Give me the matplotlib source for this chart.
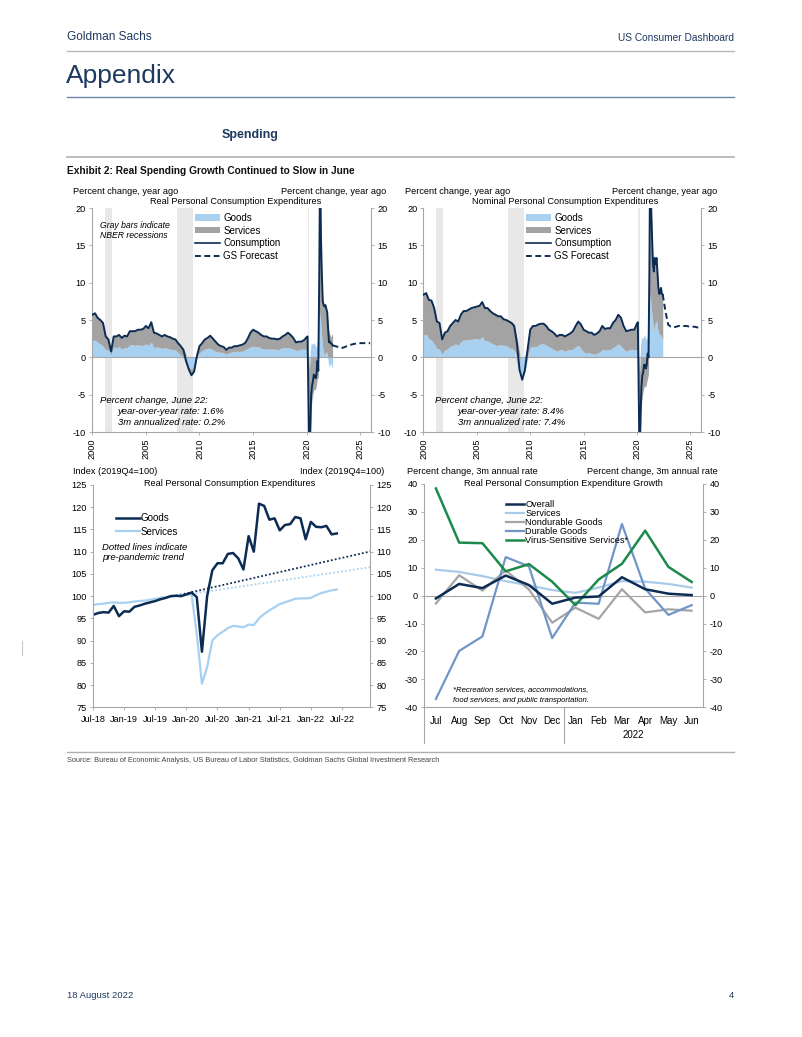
import numpy as np
import pandas as pd
import matplotlib
matplotlib.use('Agg')
import matplotlib.pyplot as plt
from matplotlib.patches import Patch
from matplotlib.lines import Line2D

plt.rcParams['font.family'] = ['Liberation Sans', 'DejaVu Sans']
plt.rcParams['axes.unicode_minus'] = False
HEAD_FONT = ['Liberation Sans', 'DejaVu Sans']

# ---------------- data ----------------
# NBER recessions (decimal years)
recessions = [(2001.17, 2001.83), (2007.92, 2009.42), (2020.08, 2020.25)]

# quarterly 2000Q1-2019Q4, yoy % (real PCE)
real_cons_q = [5.7, 5.9, 5.3, 5.0, 4.6, 2.8, 2.4, 0.8, 2.8, 2.8, 3.0, 2.6, 2.9, 2.8, 3.5, 3.5,
               3.5, 3.7, 3.7, 3.8, 4.2, 3.9, 4.7, 3.3, 3.2, 3.0, 2.8, 3.0, 2.8, 2.7, 2.5, 2.4,
               1.9, 1.5, 1.0, -0.5, -1.6, -2.4, -1.9, 0.1, 1.5, 1.9, 2.4, 2.6, 2.9, 2.5, 2.1, 1.7,
               1.5, 1.4, 1.0, 1.3, 1.3, 1.5, 1.5, 1.6, 1.7, 1.9, 2.5, 3.3, 3.7, 3.5, 3.3, 3.0,
               2.8, 2.8, 2.6, 2.5, 2.5, 2.4, 2.5, 2.8, 3.0, 3.3, 3.0, 2.6, 2.0, 2.1, 2.1, 2.3]
real_goods_q = [2.2, 2.3, 2.0, 1.8, 1.5, 1.0, 1.0, 0.3, 1.4, 1.3, 1.4, 1.1, 1.3, 1.3, 1.7, 1.7,
                1.6, 1.7, 1.6, 1.6, 1.8, 1.6, 2.0, 1.3, 1.4, 1.3, 1.2, 1.3, 1.2, 1.1, 1.0, 1.0,
                0.6, 0.3, -0.2, -0.8, -1.3, -1.6, -1.3, -0.2, 0.6, 0.9, 1.1, 1.2, 1.2, 1.0, 0.8, 0.7,
                0.7, 0.6, 0.4, 0.6, 0.7, 0.8, 0.8, 0.8, 0.8, 1.0, 1.2, 1.4, 1.5, 1.4, 1.4, 1.2,
                1.1, 1.1, 1.1, 1.1, 1.1, 1.0, 1.1, 1.3, 1.3, 1.3, 1.2, 1.1, 0.9, 1.0, 1.1, 1.1]
real_serv_q = [3.5, 3.6, 3.3, 3.2, 3.1, 1.8, 1.4, 0.5, 1.4, 1.5, 1.6, 1.5, 1.6, 1.5, 1.8, 1.8,
               1.9, 2.0, 2.1, 2.2, 2.4, 2.3, 2.7, 2.0, 1.8, 1.7, 1.6, 1.7, 1.6, 1.6, 1.5, 1.4,
               1.3, 1.2, 1.2, 0.3, -0.3, -0.8, -0.6, 0.3, 0.9, 1.0, 1.3, 1.4, 1.7, 1.5, 1.3, 1.0,
               0.8, 0.8, 0.6, 0.7, 0.6, 0.7, 0.7, 0.8, 0.9, 0.9, 1.3, 1.9, 2.2, 2.1, 1.9, 1.8,
               1.7, 1.7, 1.5, 1.4, 1.4, 1.4, 1.4, 1.5, 1.7, 2.0, 1.8, 1.5, 1.1, 1.1, 1.0, 1.2]
# monthly Jan-2020 to Jun-2022
real_cons_m = [2.7, 2.8, -6.5, -16.0, -10.0, -5.0, -3.8, -3.2, -2.3, -2.5, -2.8, -2.3,
               -0.5, -1.8, 10.0, 26.0, 16.0, 11.0, 7.5, 7.0, 6.8, 7.0, 6.5, 6.0,
               3.8, 2.0, 2.1, 1.9, 1.8, 1.6]
real_goods_m = [1.0, 1.1, -0.5, -1.5, 1.0, 1.8, 1.9, 1.7, 2.0, 1.8, 1.5, 1.3,
                2.3, 1.0, 4.5, 6.0, 4.0, 2.5, 1.2, 0.5, 0.3, 0.6, 0.8, 0.3,
                -0.5, -1.3, -1.0, -0.8, -1.2, -1.5]
real_serv_m = [1.7, 1.7, -6.0, -14.5, -11.0, -6.8, -5.7, -4.9, -4.3, -4.3, -4.3, -3.6,
               -2.8, -2.8, 5.5, 20.0, 12.0, 8.5, 6.3, 6.5, 6.5, 6.4, 5.7, 5.7,
               4.3, 3.3, 3.1, 2.7, 3.0, 3.1]
# GS forecast, every 3 months Jun-2022 to Dec-2025
real_fcst = [1.6, 1.5, 1.4, 1.25, 1.3, 1.45, 1.6, 1.7, 1.8, 1.85, 1.9, 1.9, 1.9, 1.9, 1.9]

# nominal PCE
nom_cons_q = [8.4, 8.6, 7.7, 7.6, 6.6, 4.8, 4.6, 2.4, 3.3, 3.5, 4.2, 4.6, 5.0, 4.8, 5.7, 6.2,
              6.2, 6.4, 6.6, 6.7, 6.8, 6.9, 7.4, 6.6, 6.6, 6.2, 5.9, 5.7, 5.5, 5.5, 5.1, 5.0,
              4.8, 4.6, 4.2, 1.9, -1.7, -3.0, -1.7, 1.0, 3.7, 4.2, 4.2, 4.4, 4.5, 4.5, 4.2, 3.7,
              3.5, 3.2, 2.8, 3.0, 3.0, 2.8, 3.0, 3.2, 3.5, 4.2, 4.8, 4.4, 3.7, 3.5, 3.3, 3.3,
              3.0, 3.2, 3.5, 4.2, 3.8, 3.9, 3.9, 4.6, 5.0, 5.7, 5.3, 4.2, 3.5, 3.6, 3.7, 3.7]
nom_goods_q = [3.0, 3.1, 2.5, 2.3, 1.8, 1.2, 1.1, 0.4, 1.0, 1.1, 1.5, 1.6, 1.8, 1.6, 2.1, 2.3,
               2.3, 2.4, 2.4, 2.5, 2.5, 2.4, 2.8, 2.2, 2.2, 2.0, 1.8, 1.6, 1.6, 1.7, 1.6, 1.6,
               1.3, 1.2, 1.0, -0.8, -2.3, -2.7, -2.0, -0.2, 1.3, 1.5, 1.4, 1.6, 1.8, 1.8, 1.6, 1.4,
               1.2, 1.0, 0.8, 1.0, 1.0, 0.8, 1.0, 1.0, 1.1, 1.4, 1.6, 1.2, 0.7, 0.6, 0.6, 0.5,
               0.4, 0.5, 0.7, 1.0, 1.0, 1.0, 1.0, 1.3, 1.5, 1.8, 1.5, 1.1, 0.8, 1.0, 1.1, 1.0]
nom_serv_q = [5.4, 5.5, 5.2, 5.3, 4.8, 3.6, 3.5, 2.0, 2.3, 2.4, 2.7, 3.0, 3.2, 3.2, 3.6, 3.9,
              3.9, 4.0, 4.2, 4.2, 4.3, 4.5, 4.6, 4.4, 4.4, 4.2, 4.1, 4.1, 3.9, 3.8, 3.5, 3.4,
              3.5, 3.4, 3.2, 2.7, 0.6, -0.3, 0.3, 1.2, 2.4, 2.7, 2.8, 2.8, 2.7, 2.7, 2.6, 2.3,
              2.3, 2.2, 2.0, 2.0, 2.0, 2.0, 2.0, 2.2, 2.4, 2.8, 3.2, 3.2, 3.0, 2.9, 2.7, 2.8,
              2.6, 2.7, 2.8, 3.2, 2.8, 2.9, 2.9, 3.3, 3.5, 3.9, 3.8, 3.1, 2.7, 2.6, 2.6, 2.7]
nom_cons_m = [4.5, 4.7, -5.0, -15.0, -8.0, -4.0, -2.5, -2.0, -1.0, -1.0, -1.5, -1.0,
              0.5, 0.0, 12.0, 30.0, 20.0, 16.0, 12.5, 11.5, 13.3, 12.5, 13.3, 11.5,
              9.5, 8.5, 8.6, 9.3, 8.5, 8.4]
nom_goods_m = [1.0, 1.2, 0.0, -2.0, 1.5, 2.5, 2.7, 2.5, 3.0, 2.8, 2.5, 2.3,
               3.3, 2.2, 6.5, 8.5, 6.5, 5.5, 4.5, 3.5, 4.5, 4.5, 5.0, 4.0,
               3.5, 3.0, 3.0, 3.0, 2.5, 2.3]
nom_serv_m = [3.5, 3.5, -5.0, -13.0, -9.5, -6.5, -5.2, -4.5, -4.0, -3.8, -4.0, -3.3,
              -2.8, -2.2, 5.5, 21.5, 13.5, 10.5, 8.0, 8.0, 8.8, 8.0, 8.3, 7.5,
              6.0, 5.5, 5.6, 6.3, 6.0, 6.1]
nom_fcst = [8.4, 6.2, 4.4, 4.1, 4.0, 4.1, 4.2, 4.2, 4.2, 4.2, 4.1, 4.1, 4.1, 4.0, 4.0]

# real PCE index, Jul-2018 to Jun-2022 (2019Q4=100)
idx_goods = [95.8, 96.2, 96.4, 96.3, 97.8, 95.5, 96.6, 96.5, 97.6, 97.9, 98.3, 98.6,
             98.9, 99.3, 99.6, 100.0, 100.1, 100.0, 100.4, 100.8, 99.8, 87.5, 100.0, 105.8,
             107.4, 107.4, 109.5, 109.7, 108.5, 106.0, 113.5, 110.0, 120.8, 120.3, 117.2, 117.5,
             114.8, 116.0, 116.2, 117.8, 117.5, 112.8, 116.7, 115.6, 115.5, 115.8, 113.9, 114.1]
idx_serv = [98.0, 98.2, 98.3, 98.5, 98.6, 98.5, 98.5, 98.6, 98.8, 98.9, 99.0, 99.2,
            99.4, 99.6, 99.8, 100.0, 100.0, 100.1, 100.3, 100.5, 91.5, 80.3, 84.0, 90.0,
            91.2, 92.0, 92.8, 93.3, 93.2, 93.0, 93.6, 93.5, 95.0, 96.0, 96.8, 97.5,
            98.2, 98.6, 99.0, 99.4, 99.5, 99.5, 99.6, 100.2, 100.7, 101.0, 101.3, 101.5]
idx_ticklabels = ['Jul-18', 'Jan-19', 'Jul-19', 'Jan-20', 'Jul-20', 'Jan-21', 'Jul-21', 'Jan-22', 'Jul-22']
# pre-pandemic trend: Nov-19 and Jan-23
trend_goods = [100.1, 110.2]
trend_serv = [100.0, 106.6]

# 3m annualized growth, Jul-2021 to Jun-2022
months = ['Jul', 'Aug', 'Sep', 'Oct', 'Nov', 'Dec', 'Jan', 'Feb', 'Mar', 'Apr', 'May', 'Jun']
g_overall = [-1.0, 4.2, 2.7, 7.2, 3.8, -2.9, -0.7, -0.3, 6.6, 2.3, 0.7, 0.2]
g_services = [9.3, 8.5, 7.0, 5.2, 3.7, 2.0, 1.0, 2.9, 5.2, 5.0, 4.2, 2.9]
g_nondurable = [-2.8, 7.3, 1.8, 9.0, 2.2, -9.7, -4.3, -8.3, 2.3, -6.0, -4.9, -5.4]
g_durable = [-37.0, -19.8, -14.6, 13.8, 10.5, -15.2, -2.5, -2.9, 25.7, 2.5, -6.9, -3.4]
g_virus = [38.4, 19.0, 18.8, 8.7, 11.3, 5.0, -3.4, 5.8, 11.4, 23.3, 10.3, 4.9]

# ---------------- style ----------------
W, H = 802, 1037
NAVY = '#0d2c54'
LBLUE = '#a8d0f0'
GRAY = '#a3a3a3'
SPINE = '#a6a6a6'
HEAD = '#1f3a60'
FS = 6.6

fig = plt.figure(figsize=(W / 100, H / 100), dpi=100)


def ftext(x, y, s, **kw):
    kw.setdefault('va', 'center')
    kw.setdefault('fontsize', FS)
    fig.text(x / W, 1 - y / H, s, **kw)


def hline(y, x0, x1, color, lw=1.0):
    fig.add_artist(Line2D([x0 / W, x1 / W], [1 - y / H, 1 - y / H], color=color, lw=lw))


def add_ax(l, t, r, b):
    return fig.add_axes([l / W, 1 - b / H, (r - l) / W, (b - t) / H])


def style_ax(ax):
    ax.spines['top'].set_visible(False)
    for s in ['left', 'right', 'bottom']:
        ax.spines[s].set_color(SPINE)
        ax.spines[s].set_linewidth(0.8)
    ax.tick_params(axis='y', left=True, right=True, labelleft=True, labelright=True,
                   direction='out', length=2.5, width=0.6, color=SPINE, pad=2, labelsize=FS)
    ax.tick_params(axis='x', direction='out', length=2.5, width=0.6, color=SPINE, pad=2, labelsize=FS)
    ax.set_facecolor('none')


# page header
ftext(67, 37, 'Goldman Sachs', fontsize=8.6, color=HEAD, family=HEAD_FONT)
ftext(734, 38, 'US Consumer Dashboard', fontsize=7.3, color=HEAD, family=HEAD_FONT, ha='right')
hline(51, 67, 734, '#b8b8b8')
ftext(66, 76, 'Appendix', fontsize=19, color=HEAD, family=HEAD_FONT)
hline(97, 67, 734, '#6f87a6')
ftext(222, 135, 'Spending', fontsize=9, color=HEAD, family=HEAD_FONT, weight='bold')
hline(157, 67, 734, '#b0b0b0', 1.2)
ftext(67, 171, 'Exhibit 2: Real Spending Growth Continued to Slow in June', fontsize=7.3,
      color='#111111', family=HEAD_FONT, weight='bold')
hline(752, 67, 734, '#b0b0b0')
ftext(67, 760, 'Source: Bureau of Economic Analysis, US Bureau of Labor Statistics, Goldman Sachs Global Investment Research',
      fontsize=5.3, color='#444444', family=HEAD_FONT)
ftext(67, 995, '18 August 2022', fontsize=6.8, color=HEAD, family=HEAD_FONT)
ftext(734, 995, '4', fontsize=6.8, color=HEAD, family=HEAD_FONT, ha='right')
fig.add_artist(Line2D([22 / W, 22 / W], [1 - 641 / H, 1 - 655 / H], color='#c8c8c8', lw=0.8))

# x positions
qx = np.array([p.year + (p.quarter - 1) / 4 for p in pd.period_range('2000Q1', '2019Q4', freq='Q')])
mx = np.array([p.year + (p.month - 1) / 12 for p in pd.period_range('2020-01', '2022-06', freq='M')])
fx = np.array([d.year + (d.month - 1) / 12 for d in pd.date_range('2022-06-01', '2025-12-01', freq='3MS')])


def pce_panel(ax, goods_q, serv_q, cons_q, goods_m, serv_m, cons_m, fcst):
    x = np.concatenate([qx, mx])
    goods = np.array(goods_q + goods_m)
    serv = np.array(serv_q + serv_m)
    cons = np.array(cons_q + cons_m)
    for a, b in recessions:
        ax.axvspan(a, b, color='#e8e8e8', lw=0, zorder=0)
    ax.fill_between(x, 0, goods, color=LBLUE, lw=0, zorder=1)
    base = np.where(serv >= 0, np.maximum(goods, 0), np.minimum(goods, 0))
    ax.fill_between(x, base, base + serv, color=GRAY, lw=0, zorder=1)
    ax.axhline(0, color=SPINE, lw=0.8, zorder=2)
    ax.plot(x, cons, color=NAVY, lw=1.4, zorder=3)
    ax.plot(fx, fcst, color=NAVY, lw=1.4, ls=(0, (3, 1.8)), zorder=3)
    ax.set_xlim(2000, 2026)
    ax.set_ylim(-10, 20)
    ax.set_yticks(range(-10, 21, 5))
    ax.set_xticks(range(2000, 2026, 5))
    ax.set_xticklabels([str(y) for y in range(2000, 2026, 5)], rotation=90)
    style_ax(ax)
    handles = [Patch(facecolor=LBLUE, label='Goods'), Patch(facecolor=GRAY, label='Services'),
               Line2D([], [], color=NAVY, lw=1.2, label='Consumption'),
               Line2D([], [], color=NAVY, lw=1.4, ls=(0, (3, 1.8)), label='GS Forecast')]
    return handles


# chart 1: real
ax1 = add_ax(92.3, 208, 371, 432)
h = pce_panel(ax1, real_goods_q, real_serv_q, real_cons_q, real_goods_m, real_serv_m, real_cons_m, real_fcst)
ax1.legend(handles=h, loc='upper left', bbox_to_anchor=(0.355, 0.995), frameon=False, fontsize=7,
           handlelength=2.6, handleheight=0.6, handletextpad=0.3, labelspacing=0.28, borderaxespad=0)
ftext(73, 191, 'Percent change, year ago')
ftext(386, 191, 'Percent change, year ago', ha='right')
ftext(236, 202, 'Real Personal Consumption Expenditures', ha='center')
ftext(100, 226, 'Gray bars indicate', style='italic', fontsize=6.2)
ftext(100, 235.5, 'NBER recessions', style='italic', fontsize=6.2)
ftext(100, 401, 'Percent change, June 22:', style='italic', fontsize=6.8)
ftext(118, 412, 'year-over-year rate: 1.6%', style='italic', fontsize=6.8)
ftext(118, 423, '3m annualized rate: 0.2%', style='italic', fontsize=6.8)

# chart 2: nominal
ax2 = add_ax(423.5, 208, 701, 432)
h = pce_panel(ax2, nom_goods_q, nom_serv_q, nom_cons_q, nom_goods_m, nom_serv_m, nom_cons_m, nom_fcst)
ax2.legend(handles=h, loc='upper left', bbox_to_anchor=(0.355, 0.995), frameon=False, fontsize=7,
           handlelength=2.6, handleheight=0.6, handletextpad=0.3, labelspacing=0.28, borderaxespad=0)
ftext(405, 191, 'Percent change, year ago')
ftext(717, 191, 'Percent change, year ago', ha='right')
ftext(565, 202, 'Nominal Personal Consumption Expenditures', ha='center')
ftext(435, 401, 'Percent change, June 22:', style='italic', fontsize=6.8)
ftext(458, 412, 'year-over-year rate: 8.4%', style='italic', fontsize=6.8)
ftext(458, 423, '3m annualized rate: 7.4%', style='italic', fontsize=6.8)

# chart 3: index levels
ax3 = add_ax(93, 485, 370, 707.3)
mi = np.arange(len(idx_goods))
ax3.plot([16, 54], trend_goods, color=NAVY, lw=1.3, ls=(0, (1, 1.2)))
ax3.plot([16, 54], trend_serv, color=LBLUE, lw=1.3, ls=(0, (1, 1.2)))
ax3.plot(mi, idx_serv, color=LBLUE, lw=1.6, label='Services')
ax3.plot(mi, idx_goods, color=NAVY, lw=1.8, label='Goods')
ax3.set_xlim(0, 53.4)
ax3.set_ylim(75, 125)
ax3.set_yticks(range(75, 126, 5))
ax3.set_xticks(range(0, 49, 6))
ax3.set_xticklabels(idx_ticklabels)
style_ax(ax3)
ax3.tick_params(axis='x', pad=3)
hs, ls_ = ax3.get_legend_handles_labels()
ax3.legend(hs[::-1], ls_[::-1], loc='upper left', bbox_to_anchor=(0.07, 0.89), frameon=False, fontsize=7,
           handlelength=2.4, handletextpad=0.1, labelspacing=0.35, borderaxespad=0)
ftext(73, 472, 'Index (2019Q4=100)')
ftext(384, 472, 'Index (2019Q4=100)', ha='right')
ftext(230, 483, 'Real Personal Consumption Expenditures', ha='center')
ftext(102, 547, 'Dotted lines indicate', style='italic', fontsize=6.8)
ftext(102, 558, 'pre-pandemic trend', style='italic', fontsize=6.8)

# chart 4: 3m annualized growth
ax4 = add_ax(424.3, 484, 703.3, 707.3)
cx = np.arange(len(months))
ax4.axhline(0, color=SPINE, lw=0.8)
ax4.plot(cx, g_services, color='#a9cbea', lw=1.6, label='Services')
ax4.plot(cx, g_nondurable, color='#a5a5a5', lw=1.6, label='Nondurable Goods')
ax4.plot(cx, g_durable, color='#7096c8', lw=1.6, label='Durable Goods')
ax4.plot(cx, g_virus, color='#1b8a4a', lw=1.8, label='Virus-Sensitive Services*')
ax4.plot(cx, g_overall, color=NAVY, lw=1.8, label='Overall')
ax4.set_xlim(-0.5, 11.5)
ax4.set_ylim(-40, 40)
ax4.set_yticks(range(-40, 41, 10))
ax4.set_xticks(cx)
ax4.set_xticklabels(months)
style_ax(ax4)
ax4.tick_params(axis='x', length=0, pad=6, labelsize=7)
hs, ls_ = ax4.get_legend_handles_labels()
order = [4, 0, 1, 2, 3]
ax4.legend([hs[i] for i in order], [ls_[i] for i in order], loc='upper left', bbox_to_anchor=(0.28, 0.945),
           frameon=False, fontsize=6.6, handlelength=2.0, handletextpad=0.1, labelspacing=0.0, borderaxespad=0)
for b in [-0.5, 5.5]:
    ax4.plot([b, b], [0, -0.16], color=SPINE, lw=0.8, clip_on=False,
             transform=ax4.get_xaxis_transform())
ax4.text(8.5, -0.125, '2022', transform=ax4.get_xaxis_transform(), ha='center', va='center', fontsize=7)
ftext(407, 472, 'Percent change, 3m annual rate')
ftext(718, 472, 'Percent change, 3m annual rate', ha='right')
ftext(563, 484, 'Real Personal Consumption Expenditure Growth', ha='center')
ftext(453, 690, '*Recreation services, accommodations,', style='italic', fontsize=5.6)
ftext(453, 700, 'food services, and public transportation.', style='italic', fontsize=5.6)

fig.savefig('out.png', dpi=100)
